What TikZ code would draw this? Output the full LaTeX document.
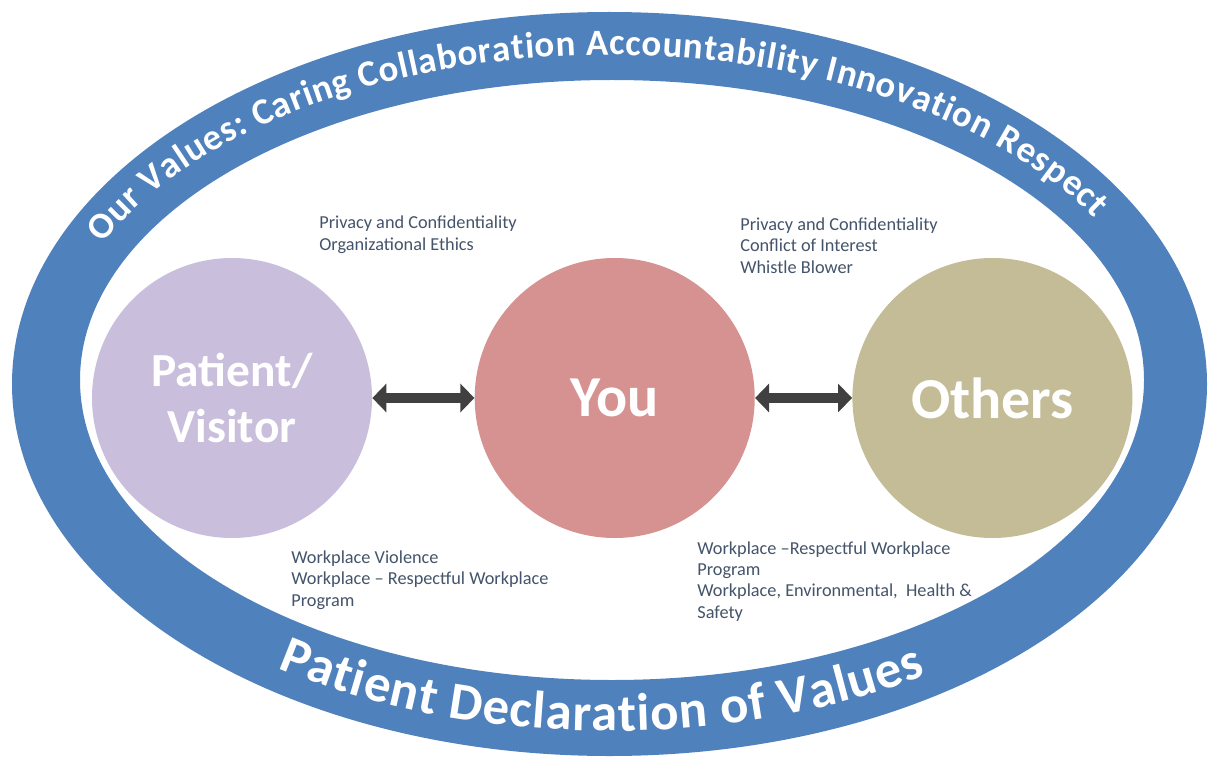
\documentclass[tikz,border=0pt]{standalone}
\usepackage{fontspec}
\setmainfont{Carlito}
\usetikzlibrary{positioning, arrows.meta, decorations.text}

\begin{document}
\begin{tikzpicture}[
        % one unit = one pixel of the 1214x759 layout, y grows downwards
        x=0.2mm, y=-0.2mm,
        >={Triangle[width=5.6mm, length=2.8mm]},
        font=\small
    ]
        % Define colours
        \definecolor{valuesblue}{RGB}{79,129,189}
        \definecolor{patientlilac}{RGB}{201,190,220}
        \definecolor{yourose}{RGB}{214,146,144}
        \definecolor{otherskhaki}{RGB}{196,188,150}
        \definecolor{notegray}{RGB}{68,84,106}
        \definecolor{arrowgray}{RGB}{64,64,64}

        % Define node styles
        \tikzstyle{bubble}=[
            circle,
            minimum size=56mm,
            inner sep=0pt,
            text=white,
            align=center
        ]
        % base = baseline of the last line
        \tikzstyle{note}=[
            anchor=base west,
            align=left,
            inner sep=0pt,
            text=notegray,
            font=\fontsize{10.4}{12.1}\selectfont
        ]
        \tikzstyle{link}=[<->, line width=2mm, arrowgray]

        \fill[white] (0,0) rectangle (1214,759);
        \useasboundingbox (0,0) rectangle (1214,759);

        % --- Outer ring ---
        \fill[valuesblue, even odd rule]
            (609.5,384) ellipse [x radius=597.5, y radius=372]
            (612,380) ellipse [x radius=532, y radius=300];

        % --- Text along the ring ---
        \path[decoration={text along path, text align={fit to path}, text color=white,
                text={|\fontsize{21}{25}\selectfont\bfseries|Our Values: Caring Collaboration Accountability Innovation Respect}},
              decorate]
            (610,382) ++(-155:560 and 327) arc[start angle=-155, end angle=-30, x radius=560, y radius=327];
        \path[decoration={text along path, text align={fit to path}, text color=white,
                text={|\fontsize{30}{35}\selectfont\bfseries|Patient Declaration of Values}},
              decorate]
            (610,384) ++(125:580 and 347) arc[start angle=125, end angle=57, x radius=580, y radius=347];

        % --- Circles ---
        \node[bubble, fill=patientlilac, font=\fontsize{27}{32}\selectfont\bfseries] (patient) at (232,398) {Patient/\\Visitor};
        \node[bubble, fill=yourose, font=\fontsize{33}{38}\selectfont\bfseries, right=2.04cm of patient] (you) {You};
        \node[bubble, fill=otherskhaki, font=\fontsize{33}{38}\selectfont\bfseries, right=1.94cm of you] (others) {Others};

        % --- Links ---
        \draw[link] (patient) -- (you);
        \draw[link] (you) -- (others);

        % --- Notes ---
        \node[note] (ethics) at (319,250) {Privacy and Confidentiality\\Organizational Ethics};
        \node[note] (conflict) at (740,273) {Privacy and Confidentiality\\Conflict of Interest\\Whistle Blower};
        \node[note] (violence) at (291,606) {Workplace Violence\\Workplace -- Respectful Workplace\\Program};
        \node[note] (safety) at (697,618) {Workplace --Respectful Workplace\\Program\\Workplace, Environmental,\ \ Health \&\\Safety};

    \end{tikzpicture}
\end{document}
